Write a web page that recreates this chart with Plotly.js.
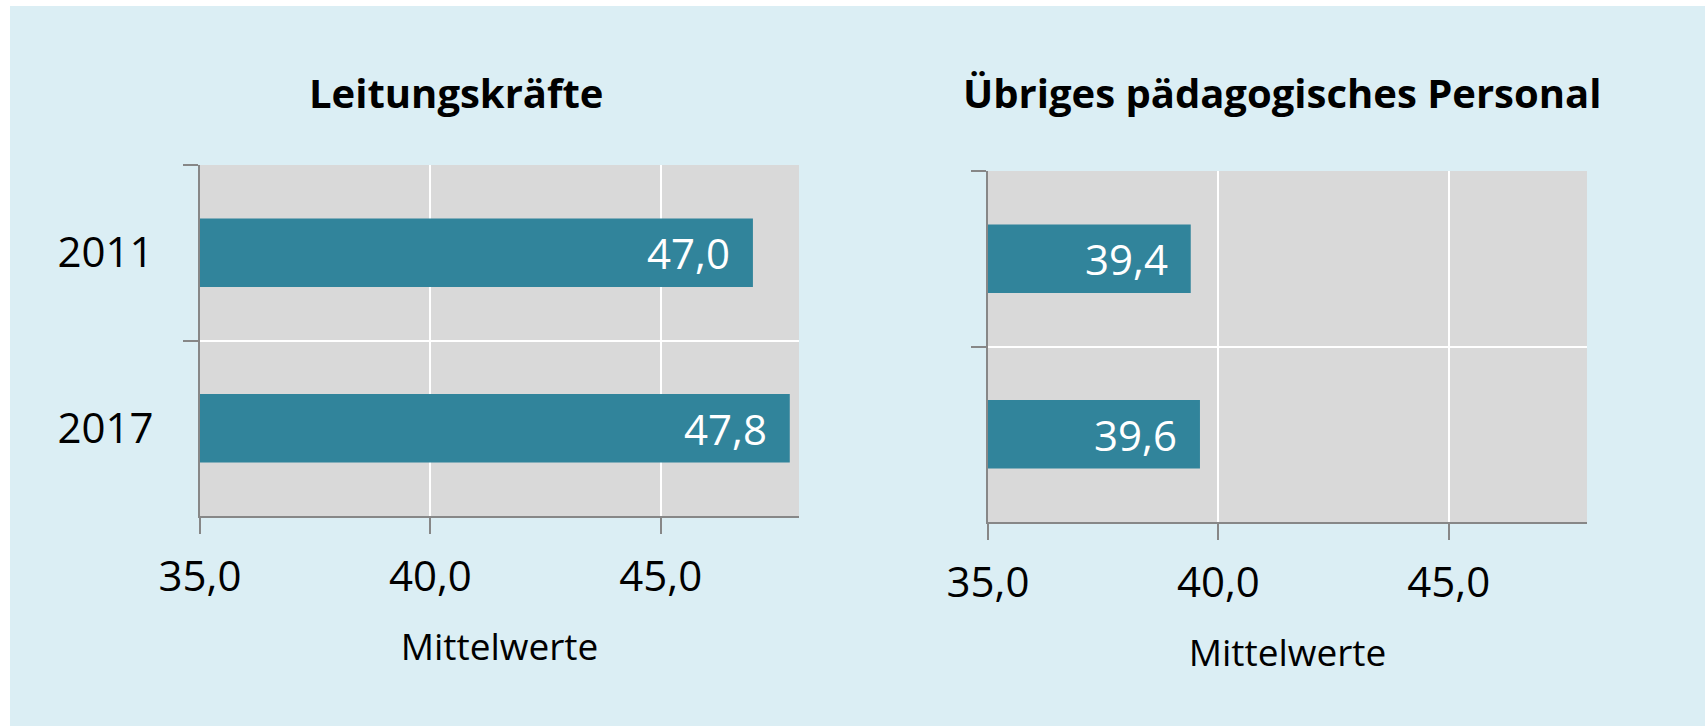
<!DOCTYPE html>
<html>
<head>
<meta charset="utf-8">
<script src="https://cdn.plot.ly/plotly-3.0.1.min.js"></script>
<style>
  body { margin: 0; background: #ffffff; }
  #chart { position: absolute; left: 10px; top: 6px; width: 1695px; height: 720px; }
</style>
</head>
<body>
<div id="chart"></div>
<script>
// Mittelwerte (Alter) nach Jahr
var years = ['2011', '2017'];
var leitung = [47.0, 47.8];
var uebrige = [39.4, 39.6];
var panelTitles = ['Leitungskräfte', 'Übriges pädagogisches Personal'];
var xTicks = [35, 40, 45];

var barColor = '#31849B';
var gridGray = '#878787';
var fontFam = '"Open Sans", sans-serif';

function fmt(v) {
  return v.toFixed(1).replace('.', ',');
}

var trace1 = {
  type: 'bar', orientation: 'h',
  y: years, x: leitung,
  xaxis: 'x', yaxis: 'y',
  width: 0.39,
  marker: { color: barColor },
  hoverinfo: 'skip'
};
var trace2 = {
  type: 'bar', orientation: 'h',
  y: years, x: uebrige,
  xaxis: 'x2', yaxis: 'y2',
  width: 0.39,
  marker: { color: barColor },
  hoverinfo: 'skip'
};

function xAxis(domain, anchor) {
  return {
    domain: domain, anchor: anchor,
    range: [35, 48],
    tickvals: xTicks, tickformat: '.1f',
    ticks: 'outside', ticklen: 16, tickwidth: 2, tickcolor: gridGray,
    ticklabelstandoff: 7,
    showline: true, linecolor: gridGray, linewidth: 2,
    showgrid: true, gridcolor: '#ffffff', gridwidth: 2,
    zeroline: false,
    tickfont: { family: fontFam, size: 42, color: '#000' },
    title: { text: 'Mittelwerte', font: { family: fontFam, size: 37, color: '#000' }, standoff: 32 }
  };
}
function yAxis(domain, anchor, labels) {
  return {
    domain: domain, anchor: anchor,
    type: 'category', categoryarray: years, categoryorder: 'array',
    range: [years.length - 0.5, -0.5],
    tickson: 'boundaries',
    ticks: 'outside', ticklen: 15, tickwidth: 2, tickcolor: gridGray,
    ticklabelstandoff: 36,
    showticklabels: labels,
    showline: true, linecolor: gridGray, linewidth: 2,
    showgrid: true, gridcolor: '#ffffff', gridwidth: 2,
    zeroline: false,
    tickfont: { family: fontFam, size: 42, color: '#000' }
  };
}

var annotations = [];
// Balkenbeschriftungen (y = Kategorie-Index)
years.forEach(function (yr, i) {
  annotations.push({ xref: 'x', yref: 'y', x: leitung[i], y: i, text: fmt(leitung[i]),
    xanchor: 'right', xshift: -21, showarrow: false,
    font: { family: fontFam, size: 42, color: '#ffffff' } });
  annotations.push({ xref: 'x2', yref: 'y2', x: uebrige[i], y: i, text: fmt(uebrige[i]),
    xanchor: 'right', xshift: -21, showarrow: false,
    font: { family: fontFam, size: 42, color: '#ffffff' } });
});
// Panel-Titel
annotations.push({ xref: 'paper', yref: 'paper', x: 446 / 1695, y: 1 - 86 / 720, text: '<b>' + panelTitles[0] + '</b>',
  showarrow: false, xanchor: 'center', yanchor: 'middle',
  font: { family: fontFam, size: 40, color: '#000' } });
annotations.push({ xref: 'paper', yref: 'paper', x: 1272 / 1695, y: 1 - 86 / 720, text: '<b>' + panelTitles[1] + '</b>',
  showarrow: false, xanchor: 'center', yanchor: 'middle',
  font: { family: fontFam, size: 40, color: '#000' } });

var layout = {
  width: 1695, height: 720,
  margin: { l: 0, r: 0, t: 0, b: 0 },
  paper_bgcolor: '#DBEEF4',
  plot_bgcolor: '#D9D9D9',
  separators: ',.',
  showlegend: false,
  xaxis: xAxis([190 / 1695, 789 / 1695], 'y'),
  yaxis: yAxis([1 - 510 / 720, 1 - 159 / 720], 'x', true),
  xaxis2: xAxis([978 / 1695, 1577 / 1695], 'y2'),
  yaxis2: yAxis([1 - 516 / 720, 1 - 165 / 720], 'x2', false),
  annotations: annotations
};

Plotly.newPlot('chart', [trace1, trace2], layout, { displayModeBar: false, staticPlot: true });
</script>
</body>
</html>
